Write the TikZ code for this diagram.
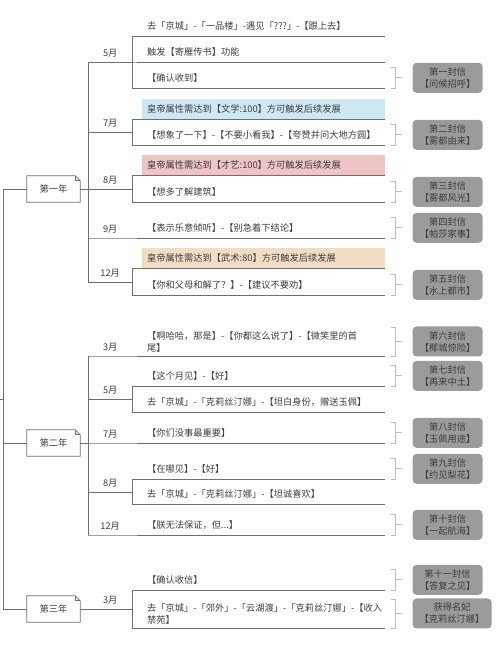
\documentclass[tikz,border=0pt]{standalone}
\usepackage{fontspec}
\usepackage{tikz}
\usetikzlibrary{positioning}
\newfontfamily\cjk{Noto Sans CJK SC}
\definecolor{linegray}{HTML}{6E6E6E}
\definecolor{txtgray}{HTML}{3C3C3C}
\definecolor{boxgray}{HTML}{9B9B9B}
\definecolor{sumgray}{HTML}{BDBDBD}
\definecolor{wenblue}{HTML}{CDE8F2}
\definecolor{yipink}{HTML}{EEC4C7}
\definecolor{wutan}{HTML}{F2DDC4}
\exhyphenpenalty=10000
\hbadness=10000
\hfuzz=20pt
\tikzset{
	branch/.style={draw=linegray, line width=0.8pt},
	summ/.style={draw=sumgray, line width=0.7pt},
	month/.style={minimum width=44pt, minimum height=18pt, inner sep=0pt, anchor=south west},
	topic/.style={text width=233pt, minimum height=20pt, inner xsep=5pt, inner ysep=0pt, align=left, anchor=south west},
	note/.style={topic, fill=#1},
	year/.style={minimum width=53pt, minimum height=26pt, inner sep=0pt},
	letter/.style={fill=boxgray, rounded corners=4pt, minimum width=70pt, minimum height=30pt, inner sep=1pt, align=center}
}

\begin{document}
\begin{tikzpicture}[x=1pt, y=-1pt, every node/.style={font=\cjk\fontsize{9.25}{12}\selectfont, text=txtgray}]
	%\draw[help lines] (0,0) grid[step=10] (500,657);
	\useasboundingbox (0,0) rectangle (500,657);
	\coordinate (stub) at (0,399);
	\coordinate (root) at (3,399);
	\node[year] (y1) at (53.5,189) {第一年};
	\node[year] (y2) at (53.5,443) {第二年};
	\node[year] (y3) at (53.5,609) {第三年};
	% first year
	\node[month] (m1a) at (88,62) {5月};
	\node[topic] (c1a1) at (142,36) {去「京城」-「一品楼」-遇见「???」-【跟上去】};
	\node[topic] (c1a2) at (142,62) {触发【寄雁传书】功能};
	\node[topic] (c1a3) at (142,88) {【确认收到】};
	\node[month] (m1b) at (88,132) {7月};
	\node[note=wenblue] (c1b1) at (142,119) {皇帝属性需达到【文学:100】方可触发后续发展};
	\node[topic] (c1b2) at (142,145) {【想象了一下】-【不要小看我】-【夸赞并问大地方圆】};
	\node[month] (m1c) at (88,189) {8月};
	\node[note=yipink] (c1c1) at (142,175) {皇帝属性需达到【才艺:100】方可触发后续发展};
	\node[topic] (c1c2) at (142,202) {【想多了解建筑】};
	\node[month] (m1d) at (88,238) {9月};
	\node[topic] (c1d1) at (142,238) {【表示乐意倾听】-【别急着下结论】};
	\node[month] (m1e) at (88,282) {12月};
	\node[note=wutan] (c1e1) at (142,268) {皇帝属性需达到【武术:80】方可触发后续发展};
	\node[topic] (c1e2) at (142,295) {【你和父母和解了？】-【建议不要劝】};
	% second year
	\node[month] (m2a) at (88,356) {3月};
	\node[topic, inner ysep=4pt] (c2a1) at (142,356) {【啊哈哈，那是】-【你都这么说了】-【微笑里的首\\尾】};
	\node[month] (m2b) at (88,399) {5月};
	\node[topic] (c2b1) at (142,386) {【这个月见】-【好】};
	\node[topic] (c2b2) at (142,412) {去「京城」-「克莉丝汀娜」-【坦白身份，赠送玉佩】};
	\node[month] (m2c) at (88,443) {7月};
	\node[topic] (c2c1) at (142,443) {【你们没事最重要】};
	\node[month] (m2d) at (88,492) {8月};
	\node[topic] (c2d1) at (142,479) {【在哪见】-【好】};
	\node[topic] (c2d2) at (142,504) {去「京城」-「克莉丝汀娜」-【坦诚喜欢】};
	\node[month] (m2e) at (88,535) {12月};
	\node[topic] (c2e1) at (142,535) {【朕无法保证，但...】};
	% third year
	\node[month] (m3a) at (88,609) {3月};
	\node[topic] (c3a1) at (142,590) {【确认收信】};
	\node[topic, inner ysep=4pt] (c3a2) at (142,628) {去「京城」-「郊外」-「云湖渡」-「克莉丝汀娜」-【收入\\禁苑】};

	\draw[branch] (stub) -- (root);
	\foreach \y in {y1,y2,y3}{
		\draw[branch] (root) |- (\y.west);
		\draw[branch] (\y.north west) -- ([xshift=-5pt]\y.north east) -- ([yshift=-5pt]\y.north east) -- (\y.south east) -- (\y.south west) -- cycle;
		\draw[branch] ([xshift=-5pt]\y.north east) |- ([yshift=-5pt]\y.north east);
	}
	\foreach \y/\m in {y1/m1a,y1/m1b,y1/m1c,y1/m1d,y1/m1e,y2/m2a,y2/m2b,y2/m2c,y2/m2d,y2/m2e,y3/m3a}
		\draw[branch] (\y.east) -| (\m.south west);
	\foreach \m/\c in {m1a/c1a1,m1a/c1a2,m1a/c1a3,m1b/c1b1,m1b/c1b2,m1c/c1c1,m1c/c1c2,m1d/c1d1,m1e/c1e1,m1e/c1e2,m2a/c2a1,m2b/c2b1,m2b/c2b2,m2c/c2c1,m2d/c2d1,m2d/c2d2,m2e/c2e1,m3a/c3a1,m3a/c3a2}{
		\draw[branch] (\m.south west) -- (\m.south east) |- (\c.south west);
		\draw[branch] (\c.south west) -- (\c.south east);
	}

	% letters
	\foreach \c/\l/\t in {c1a3/l1/{第一封信\\【问候招呼】},c1b2/l2/{第二封信\\【雾都由来】},c1c2/l3/{第三封信\\【雾都风光】},c1d1/l4/{第四封信\\【帕莎家事】},c1e2/l5/{第五封信\\【水上都市】},c2a1/l6/{第六封信\\【椰城惊险】},c2b1/l7/{第七封信\\【再来中土】},c2c1/l8/{第八封信\\【玉佩用途】},c2d1/l9/{第九封信\\【约见梨花】},c2e1/l10/{第十封信\\【一起航海】},c3a1/l11/{第十一封信\\【答复之见】}}{
		\node[letter, right=27pt of \c] (\l) {\t};
	}
	\node[letter, minimum width=79pt, right=27pt of c3a2] (l12) {获得名妃\\【克莉丝汀娜】};
	\foreach \c/\l in {c1a3/l1,c1b2/l2,c1c2/l3,c1d1/l4,c1e2/l5,c2a1/l6,c2b1/l7,c2c1/l8,c2d1/l9,c2e1/l10,c3a1/l11,c3a2/l12}{
		\draw[summ] ([xshift=6pt]\c.north east) -- ([xshift=10pt]\c.north east) -- ([xshift=10pt]\c.south east) -- ([xshift=6pt]\c.south east);
		\draw[summ] ([xshift=10pt]\c.east) -- ([xshift=-10pt]\l.west);
	}
\end{tikzpicture}
\end{document}
